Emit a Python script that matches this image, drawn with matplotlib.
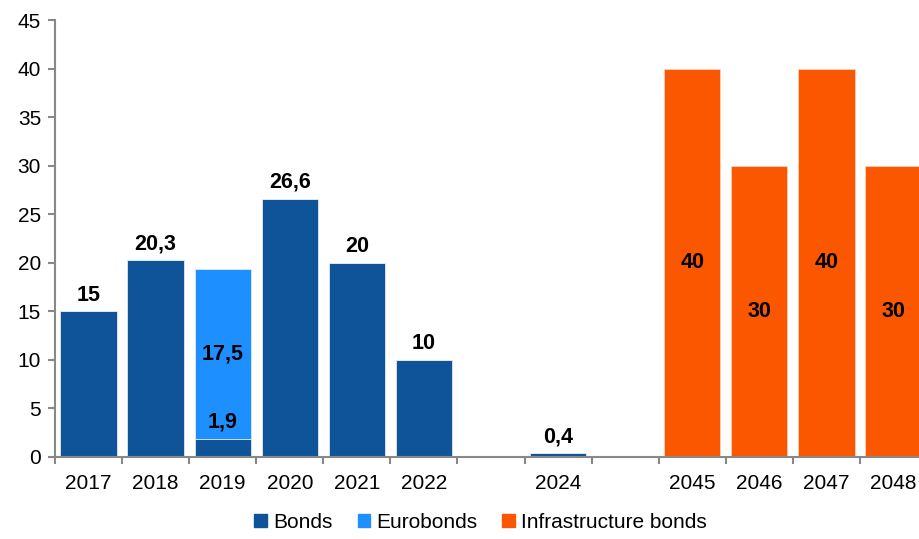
import numpy as np
import matplotlib.pyplot as plt
from matplotlib.patches import Patch

plt.rcParams['font.family'] = ['Liberation Sans', 'DejaVu Sans']

# slots along the axis; empty strings are unlabeled gaps
years = ['2017', '2018', '2019', '2020', '2021', '2022', '', '2024', '', '2045', '2046', '2047', '2048']
bonds = [15, 20.3, 1.9, 26.6, 20, 10, 0, 0.4, 0, 0, 0, 0, 0]
eurobonds = [0, 0, 17.5, 0, 0, 0, 0, 0, 0, 0, 0, 0, 0]
infra = [0, 0, 0, 0, 0, 0, 0, 0, 0, 40, 30, 40, 30]

c_bonds = '#0F5499'
c_euro = '#1E8FFF'
c_infra = '#FA5700'

def fmt(v):
    return ('%g' % v).replace('.', ',')

fig = plt.figure(figsize=(9.19, 5.39), dpi=100)
ax = fig.add_axes([55 / 919, 82 / 539, 872 / 919, 437 / 539])

x = np.arange(len(years))
w = 0.84
ax.bar(x, bonds, w, color=c_bonds, edgecolor='#dfe8f2', linewidth=0.6)
ax.bar(x, eurobonds, w, bottom=bonds, color=c_euro, edgecolor='#dfe8f2', linewidth=0.6)
ax.bar(x, infra, w, color=c_infra, edgecolor='#ffd0b5', linewidth=0.6)

lbl = dict(ha='center', fontsize=15.5, fontweight='bold', color='black')
for i in range(len(years)):
    if bonds[i] > 0:
        ax.text(x[i], bonds[i] + 0.6, fmt(bonds[i]), va='bottom', **lbl)
    if eurobonds[i] > 0:
        ax.text(x[i], bonds[i] + eurobonds[i] / 2, fmt(eurobonds[i]), va='center', **lbl)
    if infra[i] > 0:
        ax.text(x[i], infra[i] / 2, fmt(infra[i]), va='center', **lbl)

ax.set_xlim(-0.5, len(years) - 0.5)
ax.set_ylim(0, 45)
ax.set_yticks(range(0, 46, 5))
ax.set_xticks(x)
ax.set_xticklabels(years)
ax.set_xticks(np.arange(-0.5, len(years), 1), minor=True)

for s in ['top', 'right']:
    ax.spines[s].set_visible(False)
for s in ['left', 'bottom']:
    ax.spines[s].set_color('#888888')
    ax.spines[s].set_linewidth(1.5)

ax.tick_params(axis='x', which='major', length=0, pad=12, labelsize=15)
ax.tick_params(axis='x', which='minor', length=5, width=1.5, color='#888888')
ax.tick_params(axis='y', length=5, width=1.5, color='#888888', labelsize=15, pad=5)

handles = [Patch(color=c_bonds, label='Bonds'),
           Patch(color=c_euro, label='Eurobonds'),
           Patch(color=c_infra, label='Infrastructure bonds')]
fig.legend(handles=handles, loc='lower center', bbox_to_anchor=(0.523, -0.022), ncol=3,
           frameon=False, fontsize=15, handlelength=0.6, handleheight=0.6,
           handletextpad=0.3, columnspacing=1.2)

fig.savefig('out.png', dpi=100)
